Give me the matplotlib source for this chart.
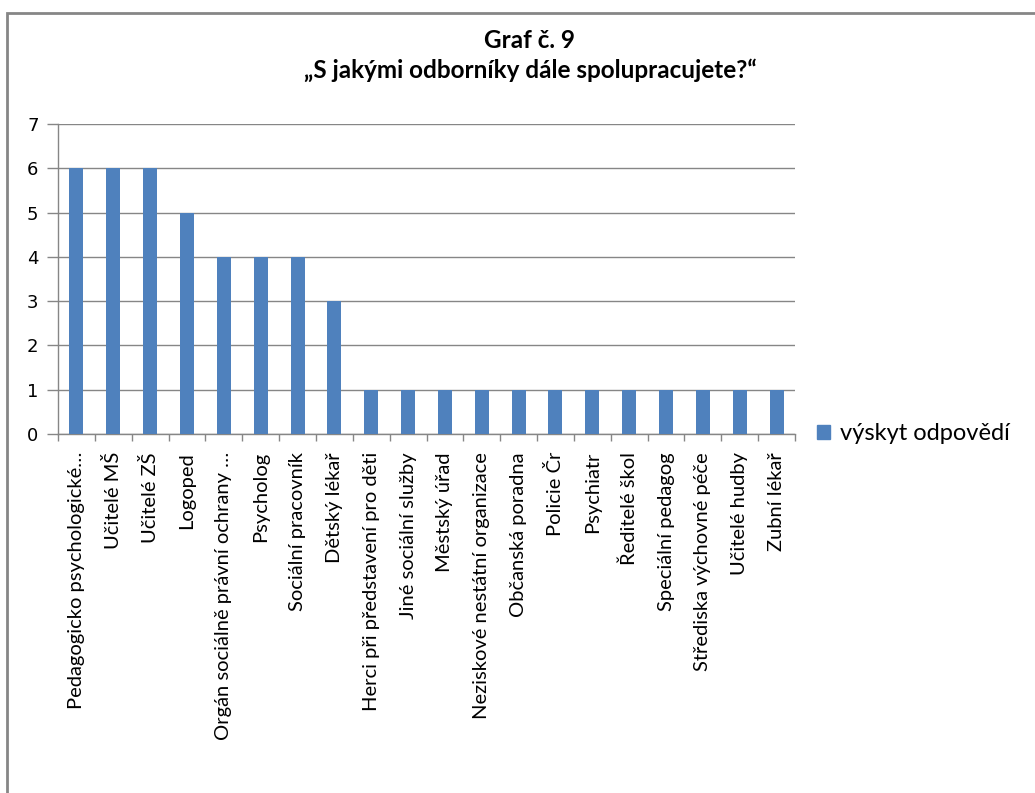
import matplotlib
matplotlib.use("Agg")
import matplotlib.pyplot as plt
from matplotlib.patches import Rectangle, Patch

categories = [
    "Pedagogicko psychologické…", "Učitelé MŠ", "Učitelé ZŠ", "Logoped",
    "Orgán sociálně právní ochrany …", "Psycholog", "Sociální pracovník",
    "Dětský lékař", "Herci při představení pro děti", "Jiné sociální služby",
    "Městský úřad", "Neziskové nestátní organizace", "Občanská poradna",
    "Policie Čr", "Psychiatr", "Ředitelé škol", "Speciální pedagog",
    "Střediska výchovné péče", "Učitelé hudby", "Zubní lékař",
]
values = [6, 6, 6, 5, 4, 4, 4, 3, 1, 1, 1, 1, 1, 1, 1, 1, 1, 1, 1, 1]
series_name = "výskyt odpovědí"
yticks = [0, 1, 2, 3, 4, 5, 6, 7]

plt.rcParams['font.family'] = ['Lato', 'DejaVu Sans']

W, H = 1035, 793
fig = plt.figure(figsize=(W / 100, H / 100), dpi=100)

# outer chart border
fig.patches.append(Rectangle((7 / W, -0.05), 1.2, 1 - 13 / H + 0.05,
                             transform=fig.transFigure, fill=False,
                             edgecolor='#868686', linewidth=2))

ax = fig.add_axes([58 / W, 1 - 434 / H, (795 - 58) / W, (434 - 124) / H])
x = list(range(len(categories)))
ax.bar(x, values, width=0.38, color='#4F81BD', zorder=3, label=series_name)

ax.set_xlim(-0.5, len(categories) - 0.5)
ax.set_ylim(0, 7)
ax.set_yticks(yticks)
ax.set_yticklabels([str(v) for v in yticks], fontsize=13, family='DejaVu Sans')
ax.yaxis.grid(True, color='#868686', linewidth=1, zorder=0)
ax.tick_params(axis='y', length=8, color='#868686', width=1, pad=6)

ax.set_xticks(x)
ax.set_xticklabels(categories, rotation=90, fontsize=14.5, va='top', ha='center')
ax.tick_params(axis='x', which='major', length=0, pad=13)
ax.set_xticks([i - 0.5 for i in range(len(categories) + 1)], minor=True)
ax.tick_params(axis='x', which='minor', length=5, color='#868686', width=1)

for s in ['top', 'right']:
    ax.spines[s].set_visible(False)
for s in ['left', 'bottom']:
    ax.spines[s].set_color('#868686')
    ax.spines[s].set_linewidth(1)

fig.text(530 / W, 1 - 40 / H, "Graf č. 9", ha='center', va='center',
         fontsize=17.5, fontweight='bold')
fig.text(530 / W, 1 - 70 / H, "„S jakými odborníky dále spolupracujete?“",
         ha='center', va='center', fontsize=17.5, fontweight='bold')

fig.legend(handles=[Patch(color='#4F81BD', label=series_name)],
           loc='center left', bbox_to_anchor=(796 / W, 1 - 434 / H),
           frameon=False, fontsize=17, handlelength=0.55, handleheight=0.55,
           handletextpad=0.4)

fig.savefig("out.png", dpi=100)
